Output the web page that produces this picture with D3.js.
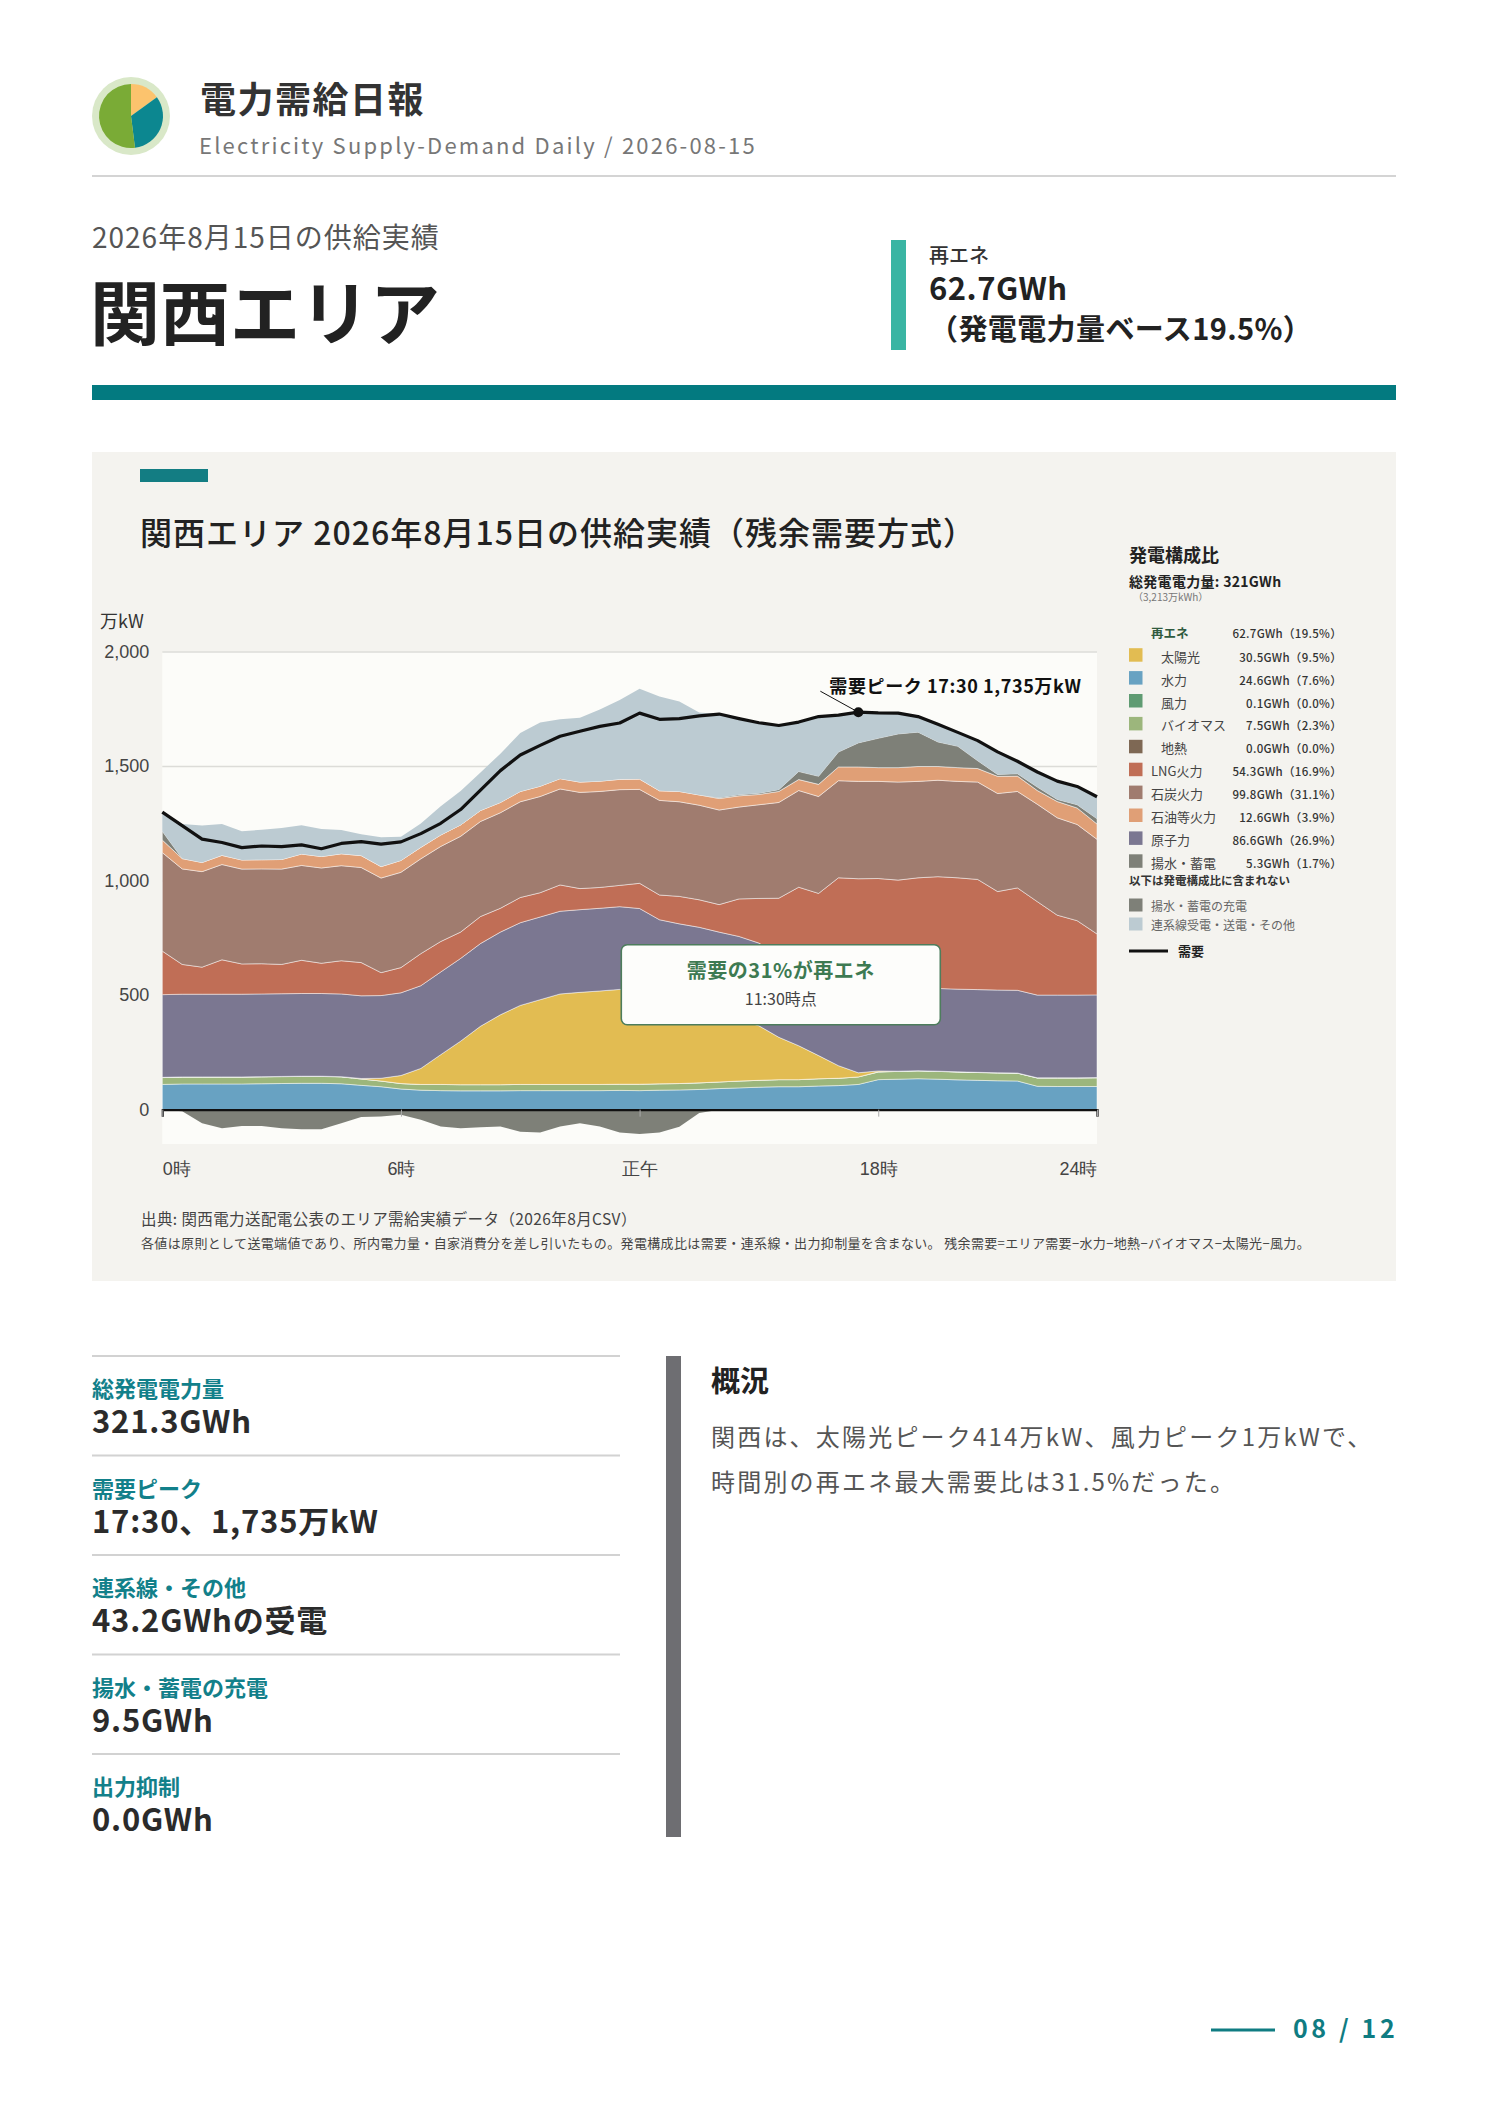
<!DOCTYPE html>
<html lang="ja">
<head>
<meta charset="utf-8">
<title>電力需給日報 関西エリア 2026-08-15</title>
<script src="https://cdn.jsdelivr.net/npm/d3@7"></script>
<style>
  html, body { margin: 0; padding: 0; background: #fff; }
  svg { display: block; font-family: "Noto Sans CJK JP", "Noto Sans", sans-serif; }
</style>
</head>
<body>
<div id="page"></div>
<script>
// 30分コマ (0:00〜23:30)
const slots = ["0:00","0:30","1:00","1:30","2:00","2:30","3:00","3:30","4:00","4:30","5:00","5:30",
  "6:00","6:30","7:00","7:30","8:00","8:30","9:00","9:30","10:00","10:30","11:00","11:30",
  "12:00","12:30","13:00","13:30","14:00","14:30","15:00","15:30","16:00","16:30","17:00","17:30",
  "18:00","18:30","19:00","19:30","20:00","20:30","21:00","21:30","22:00","22:30","23:00","23:30"];

// 万kW
const hydro = [110,112,112,112,112,113,114,115,115,113, 106,100,90,85, 83,82,82,82,83,83,83,83,83,84,
  83,85,86,88,92,95,98,100,100,103, 105,110,131,133,135,133,130,128,126,125, 102,101,101,101];
const biomass = [30,30,30,30,30,30,30,30,30,30, 28,25,24,25, 27,27,27,27,27,27,27,27,27,27,
  28,28,28,29,29,30,30,31,31,32, 32,33,33,34,34,34,34,34,34,34, 36,37,37,38];
const wind = [1,1,1,1,1,1,1,1,1,1, 0,0,0,0, 0,0,0,0,0,0,0,0,0,0,
  0,0,0,0,0,0,0,0,0,0, 0,0,1,1,1,1,1,1,1,1, 1,1,1,1];
const geothermal = [0,0,0,0,0,0,0,0,0,0, 0,0,0,0, 0,0,0,0,0,0,0,0,0,0,
  0,0,0,0,0,0,0,0,0,0, 0,0,0,0,0,0,0,0,0,0, 0,0,0,0];
const solar = [0,0,0,0,0,0,0,0,0,0, 2,12,35,70, 130,190,255,305,345,370,395,402,408,414,
  406,355,336,318,293,270,238,185,148,101, 55,18,4,0,0,0,0,0,0,0, 0,0,0,0];
const nuclear = [361,361,361,361,361,361,361,361,361,361, 361,361,361,361, 361,361,361,361,361,361,361,361,361,361,
  361,361,361,361,361,361,361,361,361,361, 361,361,361,361,361,361,361,361,361,361, 361,361,361,361];
const lng = [190,130,118,150,132,132,128,145,132,145, 145,100,110,140, 133,115,118,104,110,106,115,92,91,93,
  110,108,120,120,120,164,195,246,331,347, 459,486,479,473,481,488,486,481,430,447, 408,349,325,266];
const coal = [430,417,417,416,414,414,416,414,416,415, 415,413,416,414, 415,418,415,417,418,420,419,420,419,418,
  410,413,413,413,413,401,409,418,422,423, 424,425,424,428,421,421,421,425,428,421, 425,425,420,413];
const oil = [55,45,40,40,40,40,42,50,50,52, 52,50,52,50, 50,50,48,45,45,45,45,45,45,45,
  45,42,45,45,50,49,45,48,48,53, 60,63,60,63,65,60,60,59,75,67, 60,71,72,67];
const pumped = [38,0,0,0,0,0,0,0,0,0, 0,0,0,0, 0,0,0,0,0,0,0,0,0,0,
  0,0,0,0,4,5,5,8,35,35, 65,105,128,147,150,107,93,34,8,10, 15,9,14,23];
const interconnect = [84,151,161,137,125,131,137,126,120,104, 93,128,103,104, 125,148,166,213,255,278,259,281,313,346,
  394,412,393,360,365,332,308,280,216,261, 161,134,111,91,68,77,61,88,99,55, 66,80,80,96];
const charging = [0,-7,-59,-81,-71,-71,-81,-86,-86,-59, -32,-30,-22,-44, -74,-81,-77,-74,-96,-100,-74,-59,-74,-100,
  -106,-100,-75,-15,0,0,0,0,0,0, 0,0,0,0,0,0,0,0,0,0, 0,0,0,0];
const demand = [1299,1240,1181,1166,1144,1151,1148,1156,1139,1162, 1170,1159,1169,1205, 1250,1310,1395,1480,1548,1590,1630,1652,1673,1688,
  1731,1704,1707,1719,1727,1707,1689,1677,1692,1716, 1722,1735,1732,1731,1716,1682,1647,1611,1562,1521, 1474,1434,1411,1366];

const yTicks = [0, 500, 1000, 1500, 2000];
const xTicks = [0, 6, 12, 18, 23.5];
const xTickLabels = ["0時", "6時", "正午", "18時", "24時"];

// 発電構成比
const mixNames = ["太陽光","水力","風力","バイオマス","地熱","LNG火力","石炭火力","石油等火力","原子力","揚水・蓄電"];
const mixKeys = ["solar","hydro","wind","biomass","geothermal","lng","coal","oil","nuclear","pumped"];
const mixGWh = [30.5, 24.6, 0.1, 7.5, 0.0, 54.3, 99.8, 12.6, 86.6, 5.3];
const mixPct = [9.5, 7.6, 0.0, 2.3, 0.0, 16.9, 31.1, 3.9, 26.9, 1.7];
const reGWh = 62.7, rePct = 19.5;

const statLabels = ["総発電電力量", "需要ピーク", "連系線・その他", "揚水・蓄電の充電", "出力抑制"];
const statValues = ["321.3GWh", "17:30、1,735万kW", "43.2GWhの受電", "9.5GWh", "0.0GWh"];

const logoShares = [15, 33, 52];

const colors = {
  solar: "#e2bc52", hydro: "#68a2c2", wind: "#5f9b72", biomass: "#9cb67c", geothermal: "#7e6854",
  lng: "#c06e56", coal: "#a07c6f", oil: "#e09f76", nuclear: "#7b7791", pumped: "#7e8078",
  charging: "#7e8078", interconnect: "#bccbd2"
};
const teal = "#0f7c82";

const W = 1488, H = 2105;
const svg = d3.select("#page").append("svg")
  .attr("width", W).attr("height", H)
  .attr("viewBox", `0 0 ${W} ${H}`);

drawHeader(svg);
drawChart(svg);
drawStats(svg);

function txt(g, x, y, s, size, opts = {}) {
  return g.append("text")
    .attr("x", x).attr("y", y)
    .attr("font-size", size)
    .attr("font-weight", opts.weight || 400)
    .attr("fill", opts.fill || "#333")
    .attr("text-anchor", opts.anchor || "start")
    .attr("letter-spacing", opts.ls || 0)
    .text(s);
}

function drawHeader(svg) {
  // ロゴ
  const logo = svg.append("g").attr("transform", "translate(131,116)");
  logo.append("circle").attr("r", 39).attr("fill", "#d9e8c8");
  const pie = d3.pie().sort(null)(logoShares);
  const arc = d3.arc().innerRadius(0).outerRadius(32);
  logo.selectAll("path").data(pie).enter().append("path")
    .attr("d", arc)
    .attr("fill", (d, i) => ["#fcc36d", "#0c8790", "#7aab36"][i]);

  txt(svg, 200, 113, "電力需給日報", 36, {weight: 700, fill: "#333", ls: 1.5});
  txt(svg, 199, 154, "Electricity Supply-Demand Daily / 2026-08-15", 22, {fill: "#777", ls: 2.2});
  svg.append("rect").attr("x", 92).attr("y", 175).attr("width", 1304).attr("height", 2).attr("fill", "#d4d4d4");

  txt(svg, 92, 248, "2026年8月15日の供給実績", 28, {fill: "#555", ls: 1});
  txt(svg, 90, 340, "関西エリア", 70, {weight: 700, fill: "#222"});

  svg.append("rect").attr("x", 891).attr("y", 240).attr("width", 15).attr("height", 110).attr("fill", "#3ab5a3");
  txt(svg, 929, 263, "再エネ", 20, {weight: 500, fill: "#333"});
  txt(svg, 929, 300, reGWh + "GWh", 31, {weight: 700, fill: "#222", ls: 0.5});
  txt(svg, 929, 340, "（発電電力量ベース" + rePct + "%）", 29, {weight: 700, fill: "#222", ls: 0.4});

  svg.append("rect").attr("x", 92).attr("y", 385).attr("width", 1304).attr("height", 15).attr("fill", "#037a80");
}

function drawChart(svg) {
  const panel = svg.append("g");
  panel.append("rect").attr("x", 92).attr("y", 452).attr("width", 1304).attr("height", 829).attr("fill", "#f4f3ef");
  panel.append("rect").attr("x", 140).attr("y", 469).attr("width", 68).attr("height", 13).attr("fill", "#137d83");
  txt(panel, 140, 545, "関西エリア 2026年8月15日の供給実績（残余需要方式）", 32, {weight: 500, fill: "#222", ls: 1});

  const plotL = 162.3, plotR = 1097, plotT = 651.5, plotB = 1144;
  const hours = slots.map(s => { const p = s.split(":"); return +p[0] + p[1] / 60; });
  const x = d3.scaleLinear().domain([0, 23.5]).range([plotL, plotR]);
  const y = d3.scaleLinear().domain([-150, 2000]).range([plotB, plotT]);

  panel.append("rect")
    .attr("x", plotL).attr("y", plotT)
    .attr("width", plotR - plotL).attr("height", plotB - plotT)
    .attr("fill", "#fcfcf9");

  txt(panel, 100, 628, "万kW", 18, {fill: "#333"});

  // grid
  panel.append("g")
    .attr("transform", `translate(${plotL},0)`)
    .call(d3.axisLeft(y).tickValues(yTicks.filter(v => v > 0)).tickSize(-(plotR - plotL)).tickFormat(""))
    .call(g => g.select(".domain").remove())
    .call(g => g.selectAll("line").attr("stroke", "#dcdcd8").attr("stroke-width", 1.5));

  const yAxis = panel.append("g")
    .attr("transform", `translate(${plotL},0)`)
    .call(d3.axisLeft(y).tickValues(yTicks).tickSize(0).tickPadding(13).tickFormat(d3.format(",")));
  yAxis.select(".domain").remove();
  yAxis.selectAll("text").attr("font-size", 18).attr("fill", "#444").attr("font-family", null);

  // stacked supply
  const layerKeys = ["hydro","biomass","wind","geothermal","solar","nuclear","lng","coal","oil","pumped","interconnect"];
  const src = {hydro, biomass, wind, geothermal, solar, nuclear, lng, coal, oil, pumped, interconnect};
  const table = slots.map((s, i) => {
    const row = {t: hours[i]};
    layerKeys.forEach(k => row[k] = src[k][i]);
    return row;
  });
  const stacked = d3.stack().keys(layerKeys)(table);

  const area = d3.area()
    .x(d => x(d.data.t))
    .y0(d => y(d[0]))
    .y1(d => y(d[1]));

  panel.append("g").selectAll("path")
    .data(stacked)
    .enter()
    .append("path")
    .attr("d", area)
    .attr("fill", d => colors[d.key])
    .attr("stroke", d => d3.sum(src[d.key]) > 0 && d.key !== "interconnect" ? "rgba(255,255,255,0.6)" : "none")
    .attr("stroke-width", 0.8);

  // 揚水・蓄電の充電 (マイナス側)
  const negArea = d3.area()
    .x((d, i) => x(hours[i]))
    .y0(y(0))
    .y1(d => y(d));
  panel.append("path")
    .datum(charging)
    .attr("d", negArea)
    .attr("fill", colors.charging);

  // x axis at zero
  const xAxis = panel.append("g")
    .attr("transform", `translate(0,${y(0)})`)
    .call(d3.axisBottom(x).tickValues(xTicks).tickSize(7).tickPadding(46)
      .tickFormat((d, i) => xTickLabels[i]));
  xAxis.select(".domain").attr("stroke", "#111").attr("stroke-width", 2.2);
  xAxis.selectAll("line").attr("stroke", "#aaa");
  xAxis.selectAll("text")
    .attr("font-size", 18).attr("fill", "#444").attr("font-family", null)
    .attr("text-anchor", (d, i) => i === 0 ? "start" : (i === xTicks.length - 1 ? "end" : "middle"));

  // 需要
  const line = d3.line()
    .x((d, i) => x(hours[i]))
    .y(d => y(d));
  panel.append("path")
    .datum(demand)
    .attr("d", line)
    .attr("fill", "none")
    .attr("stroke", "#111")
    .attr("stroke-width", 3.2)
    .attr("stroke-linejoin", "round");

  // 需要ピーク
  const pk = d3.maxIndex(demand);
  const px = x(hours[pk]), py = y(demand[pk]);
  panel.append("line")
    .attr("x1", px - 38).attr("y1", py - 21)
    .attr("x2", px).attr("y2", py)
    .attr("stroke", "#111").attr("stroke-width", 1);
  panel.append("circle").attr("cx", px).attr("cy", py).attr("r", 5).attr("fill", "#111");
  txt(panel, px - 29, py - 19, `需要ピーク ${slots[pk]} ${d3.format(",")(demand[pk])}万kW`, 18, {weight: 700, fill: "#111", ls: 0.6});

  // 再エネ比率の注記
  const bx = x(15.55), by = y(545);
  const note = panel.append("g").attr("transform", `translate(${bx},${by})`);
  note.append("rect")
    .attr("x", -159.5).attr("y", -40).attr("width", 319).attr("height", 80)
    .attr("rx", 6)
    .attr("fill", "#fdfdfb")
    .attr("stroke", "#4d7d5c").attr("stroke-width", 1.6);
  txt(note, 0, -7, "需要の31%が再エネ", 20, {weight: 700, fill: "#3d7a52", anchor: "middle", ls: 0.5});
  txt(note, 0, 20, "11:30時点", 16, {fill: "#444", anchor: "middle"});

  drawLegend(panel);

  txt(panel, 141, 1225, "出典: 関西電力送配電公表のエリア需給実績データ（2026年8月CSV）", 15.5, {fill: "#444", ls: 0.4});
  txt(panel, 141, 1248, "各値は原則として送電端値であり、所内電力量・自家消費分を差し引いたもの。発電構成比は需要・連系線・出力抑制量を含まない。 残余需要=エリア需要−水力−地熱−バイオマス−太陽光−風力。", 13, {fill: "#444", ls: 0.35});
}

function drawLegend(g) {
  const lx = 1129, vx = 1342;
  txt(g, lx, 562, "発電構成比", 18, {weight: 700, fill: "#222"});
  txt(g, lx, 587, "総発電電力量: 321GWh", 14, {weight: 700, fill: "#222", ls: 0.3});
  txt(g, lx + 4, 601, "（3,213万kWh）", 10, {fill: "#777"});

  txt(g, lx + 22, 638, "再エネ", 12.5, {weight: 700, fill: "#2f5a3e"});
  txt(g, vx, 638, `${reGWh}GWh（${rePct}%）`, 11.5, {weight: 500, fill: "#333", anchor: "end", ls: 0.3});

  const rowY = d3.scaleLinear().domain([0, 1]).range([661.7, 684.6]);
  mixNames.forEach((name, i) => {
    const by = rowY(i);
    g.append("rect").attr("x", lx).attr("y", by - 13.5).attr("width", 13.5).attr("height", 13.5)
      .attr("fill", colors[mixKeys[i]]);
    txt(g, i < 5 ? lx + 32 : lx + 22, by, name, 13, {fill: "#444"});
    txt(g, vx, by, `${mixGWh[i].toFixed(1)}GWh（${mixPct[i].toFixed(1)}%）`, 11.5, {weight: 500, fill: "#333", anchor: "end", ls: 0.3});
  });

  txt(g, lx, 885, "以下は発電構成比に含まれない", 11.5, {weight: 700, fill: "#333"});
  [["揚水・蓄電の充電", colors.charging, 911], ["連系線受電・送電・その他", colors.interconnect, 930]]
    .forEach(([name, c, by]) => {
      g.append("rect").attr("x", lx).attr("y", by - 12.5).attr("width", 13.5).attr("height", 13)
        .attr("fill", c);
      txt(g, lx + 22, by, name, 12, {fill: "#666"});
    });

  g.append("line").attr("x1", lx).attr("x2", lx + 39).attr("y1", 951).attr("y2", 951)
    .attr("stroke", "#111").attr("stroke-width", 3);
  txt(g, lx + 49, 956, "需要", 13, {weight: 700, fill: "#222"});
}

function drawStats(svg) {
  const g = svg.append("g");
  const rowY = d3.scaleLinear().domain([0, 1]).range([1356, 1455.5]);
  statLabels.forEach((label, i) => {
    const top = rowY(i);
    g.append("rect").attr("x", 92).attr("y", top - 1).attr("width", 528).attr("height", 2).attr("fill", "#d2d2d2");
    txt(g, 92, top + 41, label, 22, {weight: 700, fill: "#12808a"});
    txt(g, 92, top + 77, statValues[i], 31, {weight: 700, fill: "#2b2b2b", ls: 0.8});
  });

  g.append("rect").attr("x", 666).attr("y", 1356).attr("width", 15).attr("height", 481).attr("fill", "#6e6e72");
  txt(g, 711, 1392, "概況", 29, {weight: 700, fill: "#222"});
  txt(g, 711, 1446, "関西は、太陽光ピーク414万kW、風力ピーク1万kWで、", 24, {fill: "#555", ls: 2.2});
  txt(g, 711, 1491, "時間別の再エネ最大需要比は31.5%だった。", 24, {fill: "#555", ls: 2.2});

  // page no.
  g.append("line").attr("x1", 1211).attr("x2", 1275).attr("y1", 2030).attr("y2", 2030)
    .attr("stroke", teal).attr("stroke-width", 3);
  txt(g, 1293, 2038, "08 / 12", 25, {weight: 700, fill: teal, ls: 3.6});
}
</script>
</body>
</html>
